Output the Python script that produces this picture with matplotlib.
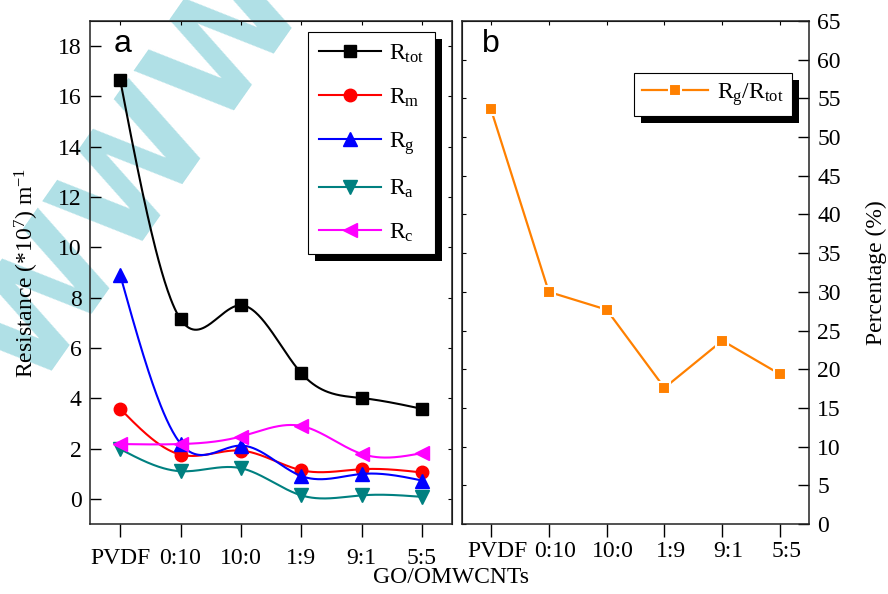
import matplotlib
matplotlib.use("Agg")
import matplotlib.pyplot as plt
import numpy as np
from matplotlib.lines import Line2D
from matplotlib.patches import Rectangle
from matplotlib.transforms import IdentityTransform, ScaledTranslation, blended_transform_factory

plt.rcParams['font.family'] = ['Liberation Serif', 'DejaVu Serif']
plt.rcParams['mathtext.fontset'] = 'custom'
plt.rcParams['mathtext.rm'] = 'Liberation Serif'
plt.rcParams['mathtext.it'] = 'Liberation Serif:italic'

cats = ['PVDF', '0:10', '10:0', '1:9', '9:1', '5:5']
R_tot = [16.65, 7.14, 7.70, 5.00, 4.01, 3.58]
R_m = [3.58, 1.76, 1.92, 1.14, 1.18, 1.05]
R_g = [8.90, 2.20, 2.12, 0.91, 0.99, 0.73]
R_a = [1.98, 1.10, 1.22, 0.14, 0.14, 0.08]
R_c = [2.18, 2.18, 2.48, 2.90, 1.79, 1.82]
ratio = [53.6, 30.0, 27.7, 17.6, 23.7, 19.35]


def spline(x, y, n=300):
    # natural cubic spline, like Origin's spline connector
    x = np.asarray(x, float); y = np.asarray(y, float)
    k = len(x); h = np.diff(x)
    A = np.zeros((k, k)); r = np.zeros(k)
    A[0, 0] = A[-1, -1] = 1
    for i in range(1, k - 1):
        A[i, i - 1] = h[i - 1]; A[i, i] = 2 * (h[i - 1] + h[i]); A[i, i + 1] = h[i]
        r[i] = 3 * ((y[i + 1] - y[i]) / h[i] - (y[i] - y[i - 1]) / h[i - 1])
    c = np.linalg.solve(A, r)
    b = (y[1:] - y[:-1]) / h - h * (2 * c[:-1] + c[1:]) / 3
    d = (c[1:] - c[:-1]) / (3 * h)
    xs = np.linspace(x[0], x[-1], n)
    idx = np.clip(np.searchsorted(x, xs) - 1, 0, k - 2)
    dx = xs - x[idx]
    return xs, y[idx] + b[idx] * dx + c[idx] * dx ** 2 + d[idx] * dx ** 3


def shadow(ax, leg, off=7):
    fig.canvas.draw()
    bb = leg.get_frame().get_window_extent()
    r = Rectangle((bb.x0 + off, bb.y0 - off), bb.width, bb.height, transform=IdentityTransform(),
                  facecolor='black', edgecolor='none', zorder=4.9)
    ax.add_artist(r)


fig = plt.figure(figsize=(8.88, 5.94), dpi=100)
ax1 = fig.add_axes([0.1014, 0.1178, 0.4077, 0.8468])
ax2 = fig.add_axes([0.5203, 0.1178, 0.3908, 0.8468])
for a in (ax1, ax2):
    a.patch.set_alpha(0)
    for s in a.spines.values():
        s.set_linewidth(1.1)
        s.set_color('#222222')

# watermark
fig.text(0.155, 0.71, 'WWW', rotation=55, color='powderblue', fontsize=104, fontweight='bold',
         family='DejaVu Sans', ha='center', va='center', zorder=-10)

x = np.arange(1, 7)
series = [(R_tot, 'black', 's', 'R$_{\\mathrm{tot}}$', 8),
          (R_m, 'red', 'o', 'R$_{\\mathrm{m}}$', 9),
          (R_g, 'blue', '^', 'R$_{\\mathrm{g}}$', 10),
          (R_a, '#008080', 'v', 'R$_{\\mathrm{a}}$', 10),
          (R_c, 'magenta', '<', 'R$_{\\mathrm{c}}$', 10)]
handles = []
for vals, col, mk, lab, ms in series:
    xs, ys = spline(x, vals)
    ax1.plot(xs, ys, color=col, lw=1.5)
    ax1.plot(x, vals, ls='none', marker=mk, color=col, ms=ms, mec=col)
    handles.append(Line2D([], [], color=col, lw=1.5, marker=mk, ms=ms, label=lab))

ax1.set_xlim(0.5, 6.5)
ax1.set_ylim(-1, 19)
ax1.set_yticks(range(0, 19, 2))
ax1.set_xticks(x)
ax1.set_xticklabels(cats)
ax1.tick_params(axis='y', direction='in', length=8, width=1, labelsize=17, pad=6)
ax1.tick_params(axis='x', direction='out', length=9, width=1, labelsize=17, pad=8)
ax1.set_ylabel('Resistance (*10$^{7}$) m$^{-1}$', fontsize=17, labelpad=12)
s1 = ax1.secondary_yaxis('right')
s1.set_yticks(range(0, 19, 2)); s1.tick_params(direction='in', length=3, labelright=False)
t1 = ax1.secondary_xaxis('top')
t1.set_xticks(x); t1.tick_params(direction='in', length=3, labeltop=False)
ax1.text(0.066, 0.938, 'a', transform=ax1.transAxes, fontsize=23, family='Liberation Sans', va='baseline')

leg1 = ax1.legend(handles=handles, loc='upper right', bbox_to_anchor=(0.952, 0.978), fontsize=17,
                  frameon=True, fancybox=False, edgecolor='black', framealpha=1, handlelength=2.6,
                  labelspacing=0.9, borderpad=0.45, handletextpad=0.35, borderaxespad=0)
leg1.get_frame().set_linewidth(0.8)

ax2.plot(x, ratio, color='#FF8000', lw=1.6, marker='s', ms=9, mec='white', mew=1.5)
ax2.set_xlim(0.5, 6.5)
ax2.set_ylim(0, 65)
ax2.set_yticks(range(0, 66, 5))
ax2.set_xticks(x)
ax2.set_xticklabels([])
# x tick labels of panel b sit a little right of their ticks
lab_tr = blended_transform_factory(ax2.transData, ax2.transAxes) + \
    ScaledTranslation(0.065, -0.17, fig.dpi_scale_trans)
for xi, c in zip(x, cats):
    ax2.text(xi, 0, c, transform=lab_tr, fontsize=17, ha='center', va='top')
ax2.yaxis.tick_right()
ax2.yaxis.set_label_position('right')
ax2.tick_params(axis='y', direction='in', length=8, width=1, labelsize=17, pad=6)
ax2.tick_params(axis='x', direction='out', length=9, width=1, labelsize=17, pad=8)
ax2.set_ylabel('Percentage (%)', fontsize=17, labelpad=18)
s2 = ax2.secondary_yaxis('left')
s2.set_yticks(range(0, 66, 5)); s2.tick_params(direction='in', length=3, labelleft=False)
t2 = ax2.secondary_xaxis('top')
t2.set_xticks(x); t2.tick_params(direction='in', length=3, labeltop=False)
ax2.text(0.058, 0.938, 'b', transform=ax2.transAxes, fontsize=23, family='Liberation Sans', va='baseline')
leg2 = ax2.legend(['R$_{\\mathrm{g}}$/R$_{\\mathrm{tot}}$'], loc='upper right', bbox_to_anchor=(0.952, 0.897),
                  fontsize=17, frameon=True, fancybox=False, edgecolor='black', framealpha=1,
                  handlelength=2.8, borderpad=0.35, handletextpad=0.4, borderaxespad=0)
leg2.get_frame().set_linewidth(0.8)

fig.text(0.508, 0.027, 'GO/OMWCNTs', fontsize=17, ha='center', va='center')

shadow(ax1, leg1)
shadow(ax2, leg2)

fig.savefig('out.png', dpi=100)
